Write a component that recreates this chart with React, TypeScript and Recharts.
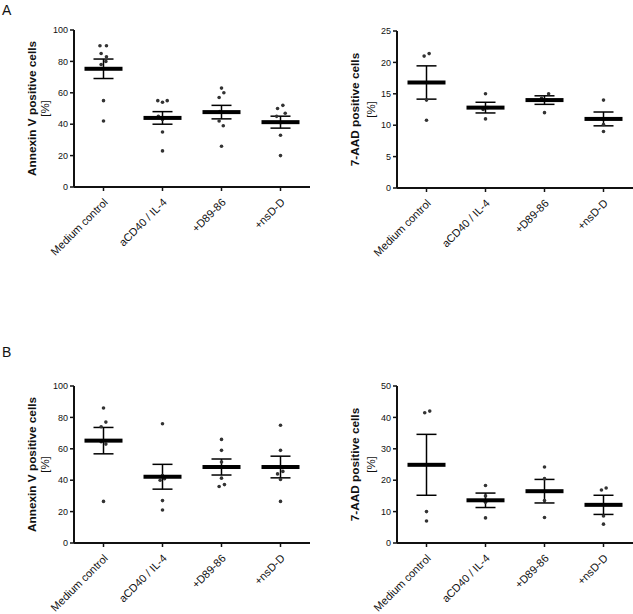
import React from 'react';
import { ComposedChart, Scatter, ErrorBar, XAxis, YAxis } from 'recharts';

const categories = ['Medium control', 'aCD40 / IL-4', '+D89-86', '+nsD-D'];

// A, Annexin V positive cells [%]
const annexinA = [
  [90, 90, 85, 83, 80, 78, 55, 42],
  [55, 55, 54, 45, 43, 35, 23],
  [63, 60, 57, 48, 42, 39, 26],
  [52, 50, 47, 45, 41, 33, 20],
];
const annexinAJitter = [
  [-0.06, 0.05, -0.04, 0.05, 0.04, -0.04, 0, 0],
  [-0.08, 0.08, 0, -0.07, 0, 0, 0],
  [0, 0.04, -0.04, -0.03, -0.04, 0.03, 0],
  [0.04, -0.05, 0.08, -0.065, 0, 0, 0],
];
const annexinAMean = [75.3, 44.0, 47.7, 41.3];
const annexinASem = [6.2, 4.0, 4.3, 3.8];

// A, 7-AAD positive cells [%]
const aadA = [
  [21.0, 21.4, 14.0, 10.8],
  [15.0, 12.8, 12.5, 11.0],
  [15.0, 14.3, 14.0, 12.0],
  [14.0, 11.0, 10.1, 9.0],
];
const aadAJitter = [
  [-0.04, 0.045, 0, 0],
  [0, 0.04, -0.04, 0],
  [0.07, -0.05, 0.04, 0],
  [0, 0, 0, 0],
];
const aadAMean = [16.8, 12.8, 14.0, 11.0];
const aadASem = [2.65, 0.85, 0.68, 1.1];

// B, Annexin V positive cells [%]
const annexinB = [
  [86, 77, 74, 64.5, 63, 26.5],
  [76, 43, 41, 40, 27, 21],
  [66, 59, 51.6, 41.3, 37.2, 36],
  [75, 59, 45.6, 44, 40.4, 26.5],
];
const annexinBJitter = [
  [0, 0.04, -0.04, -0.04, 0.04, 0],
  [0, 0, 0.035, -0.04, 0, 0],
  [0, 0, 0, 0, 0.05, -0.04],
  [0, 0, 0.04, -0.05, 0, 0],
];
const annexinBMean = [65.2, 42.2, 48.4, 48.4];
const annexinBSem = [8.4, 7.9, 5.1, 6.9];

// B, 7-AAD positive cells [%]
const aadB = [
  [41.5, 42.0, 10.0, 7.0],
  [18.3, 15.0, 13.0, 8.0],
  [24.2, 20.5, 13.5, 8.1],
  [17.5, 16.9, 8.6, 6.0],
];
const aadBJitter = [
  [-0.03, 0.055, 0, 0],
  [0, 0, 0, 0],
  [0, 0, 0, 0],
  [0.045, -0.035, 0, 0],
];
const aadBMean = [24.9, 13.6, 16.5, 12.15];
const aadBSem = [9.7, 2.3, 3.75, 3.05];

const annexinTicks = [0, 20, 40, 60, 80, 100];
const aadATicks = [0, 5, 10, 15, 20, 25];
const aadBTicks = [0, 10, 20, 30, 40, 50];

const FONT = '"Liberation Sans", Arial, sans-serif';

function CategoryTick(props: any) {
  const { x, y, payload } = props;
  const label = categories[Math.floor(payload.value)];
  return (
    <text
      transform={`translate(${x + 5}, ${y + 10}) rotate(-45)`}
      textAnchor="end"
      fontSize={11}
      fontFamily={FONT}
      fill="#111"
    >
      {label}
    </text>
  );
}

interface PanelProps {
  values: number[][];
  jitter: number[][];
  means: number[];
  sems: number[];
  yTicks: number[];
  left: number;
  top: number;
  width: number;
  marginLeft: number;
  marginRight: number;
  marginTop: number;
}

function DotPanel({ values, jitter, means, sems, yTicks, left, top, width, marginLeft, marginRight, marginTop }: PanelProps) {
  const points = values.flatMap((group, i) =>
    group.map((v, j) => ({ x: i + 0.5 + jitter[i][j], y: v }))
  );
  const summary = means.map((m, i) => ({ x: i + 0.5, y: m, sem: sems[i] }));
  const height = 300;

  return (
    <div style={{ position: 'absolute', left, top }}>
      <ComposedChart
        width={width}
        height={height}
        margin={{ top: marginTop, right: marginRight, bottom: height - 187 - 90, left: marginLeft }}
      >
        <XAxis
          type="number"
          dataKey="x"
          domain={[0, 4]}
          ticks={[0.5, 1.5, 2.5, 3.5]}
          interval={0}
          height={90}
          tickSize={4}
          axisLine={{ stroke: '#111', strokeWidth: 2 }}
          tickLine={{ stroke: '#111', strokeWidth: 1.5 }}
          tick={<CategoryTick />}
        />
        <YAxis
          type="number"
          dataKey="y"
          domain={[0, yTicks[yTicks.length - 1]]}
          ticks={yTicks}
          interval={0}
          width={40}
          tickSize={4}
          tickMargin={2}
          axisLine={{ stroke: '#111', strokeWidth: 2 }}
          tickLine={{ stroke: '#111', strokeWidth: 1.5 }}
          tick={{ fontSize: 9, fill: '#111', fontFamily: FONT }}
        />
        <Scatter
          data={points}
          isAnimationActive={false}
          shape={(p: any) => <circle cx={p.cx} cy={p.cy} r={1.8} fill="#333" />}
        />
        <Scatter
          data={summary}
          isAnimationActive={false}
          shape={(p: any) => <rect x={p.cx - 19} y={p.cy - 2} width={38} height={4} fill="#000" />}
        >
          <ErrorBar dataKey="sem" direction="y" width={10} stroke="#000" strokeWidth={1.5} />
        </Scatter>
      </ComposedChart>
    </div>
  );
}

function AxisTitle({ x1, x2, cy, text }: { x1: number; x2: number; cy: number; text: string }) {
  return (
    <g fontFamily={FONT} fill="#111">
      <text
        x={x1}
        y={cy}
        transform={`rotate(-90, ${x1}, ${cy})`}
        textAnchor="middle"
        dominantBaseline="central"
        fontSize={11.8}
        fontWeight="bold"
      >
        {text}
      </text>
      <text
        x={x2}
        y={cy}
        transform={`rotate(-90, ${x2}, ${cy})`}
        textAnchor="middle"
        dominantBaseline="central"
        fontSize={11.5}
      >
        [%]
      </text>
    </g>
  );
}

export default function App() {
  return (
    <div style={{ position: 'absolute', left: 0, top: 0, width: 633, height: 614, background: '#fff', overflow: 'hidden' }}>
      <DotPanel
        values={annexinA}
        jitter={annexinAJitter}
        means={annexinAMean}
        sems={annexinASem}
        yTicks={annexinTicks}
        left={0}
        top={0}
        width={320}
        marginLeft={34}
        marginRight={10}
        marginTop={30}
      />
      <DotPanel
        values={aadA}
        jitter={aadAJitter}
        means={aadAMean}
        sems={aadASem}
        yTicks={aadATicks}
        left={320}
        top={1}
        width={313}
        marginLeft={37}
        marginRight={0}
        marginTop={30}
      />
      <DotPanel
        values={annexinB}
        jitter={annexinBJitter}
        means={annexinBMean}
        sems={annexinBSem}
        yTicks={annexinTicks}
        left={0}
        top={356}
        width={320}
        marginLeft={34}
        marginRight={10}
        marginTop={30}
      />
      <DotPanel
        values={aadB}
        jitter={aadBJitter}
        means={aadBMean}
        sems={aadBSem}
        yTicks={aadBTicks}
        left={320}
        top={356}
        width={313}
        marginLeft={37}
        marginRight={0}
        marginTop={30}
      />
      <svg
        width={633}
        height={614}
        style={{ position: 'absolute', left: 0, top: 0, pointerEvents: 'none' }}
      >
        <text x={2} y={15} fontSize={14} fontFamily={FONT} fill="#111">A</text>
        <text x={2} y={357} fontSize={14} fontFamily={FONT} fill="#111">B</text>
        <AxisTitle x1={32} x2={45} cy={108.5} text="Annexin V positive cells" />
        <AxisTitle x1={355} x2={371} cy={109.5} text="7-AAD positive cells" />
        <AxisTitle x1={32} x2={45} cy={464.5} text="Annexin V positive cells" />
        <AxisTitle x1={355} x2={371} cy={464.5} text="7-AAD positive cells" />
      </svg>
    </div>
  );
}
